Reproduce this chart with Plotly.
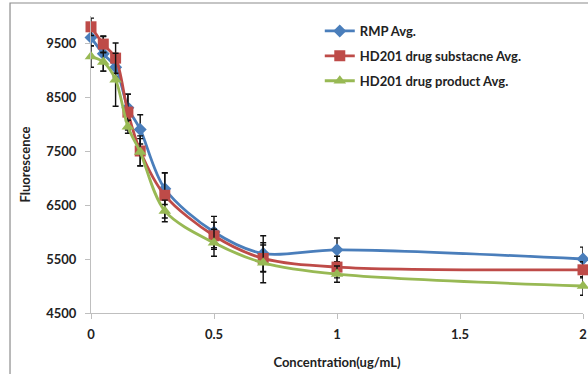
import plotly.graph_objects as go

conc = [0, 0.05, 0.1, 0.15, 0.2, 0.3, 0.5, 0.7, 1, 2]

rmp_avg = [9600, 9300, 9050, 8300, 7900, 6800, 6000, 5600, 5670, 5500]
rmp_err = [150, 320, 180, 250, 270, 290, 290, 330, 220, 220]

ds_avg = [9800, 9480, 9220, 8220, 7500, 6680, 5930, 5510, 5350, 5300]
ds_err = [160, 150, 280, 330, 280, 420, 250, 250, 200, 150]

dp_avg = [9250, 9150, 8820, 7950, 7480, 6390, 5800, 5430, 5220, 5000]
dp_err = [200, 170, 490, 120, 250, 200, 250, 370, 150, 170]

names = ["RMP Avg.", "HD201 drug substacne Avg.", "HD201 drug product Avg."]
colors = ["#4A7EBB", "#BE4B48", "#98B954"]
symbols = ["diamond", "square", "triangle-up"]
sizes = [10, 11, 11]

fig = go.Figure()
for i, (ys, es) in enumerate([(rmp_avg, rmp_err), (ds_avg, ds_err), (dp_avg, dp_err)]):
    fig.add_trace(go.Scatter(
        x=conc, y=ys, name=names[i], mode="lines+markers",
        line=dict(color=colors[i], width=2.8, shape="spline", smoothing=0.9),
        marker=dict(symbol=symbols[i], size=sizes[i], color=colors[i]),
        error_y=dict(type="data", array=es, visible=True, color="#111111",
                     thickness=1.4, width=3),
        legendgroup=f"g{i}", cliponaxis=False,
    ))

font_family = "Lato, 'Open Sans', sans-serif"

fig.update_layout(
    width=588, height=374,
    margin=dict(l=91, r=5, t=16, b=61, autoexpand=False),
    paper_bgcolor="white", plot_bgcolor="white",
    font=dict(family=font_family, size=13, color="#222222"),
    showlegend=True,
    legend=dict(x=0.465, y=1.0, xanchor="left", yanchor="top",
                bgcolor="rgba(0,0,0,0)", tracegroupgap=5,
                font=dict(family=font_family, size=13, color="#222222", weight="bold"),
                itemwidth=30),
    xaxis=dict(range=[0, 2], tickmode="array", tickvals=[0, 0.5, 1, 1.5, 2],
               ticktext=["0", "0.5", "1", "1.5", "2"], automargin=False,
               showgrid=False, zeroline=False, showline=True,
               linecolor="#BFBFBF", linewidth=1.2,
               ticks="outside", ticklen=5, tickcolor="#BFBFBF",
               tickfont=dict(weight="bold", size=13), ticklabelstandoff=4,
               title=dict(text="Concentration(ug/mL)", standoff=17,
                          font=dict(weight="bold", size=13))),
    yaxis=dict(range=[4500, 10000], tickmode="array",
               tickvals=[4500, 5500, 6500, 7500, 8500, 9500],
               ticktext=["4500", "5500", "6500", "7500", "8500", "9500"],
               automargin=False,
               showgrid=False, zeroline=False, showline=True,
               linecolor="#BFBFBF", linewidth=1.2,
               ticks="outside", ticklen=5, tickcolor="#BFBFBF",
               tickfont=dict(weight="bold", size=13), ticklabelstandoff=6,
               title=dict(text="Fluorescence", standoff=12,
                          font=dict(weight="bold", size=13))),
    shapes=[dict(type="rect", xref="paper", yref="paper",
                 x0=-0.1646, x1=1.2, y0=-0.4, y1=1.0438,
                 line=dict(color="#8C8C8C", width=1.2), fillcolor="rgba(0,0,0,0)",
                 layer="below")],
)

fig.write_html("out.html", config={"displayModeBar": False},
               post_script="document.body.style.margin='0';document.body.style.overflow='hidden';")
